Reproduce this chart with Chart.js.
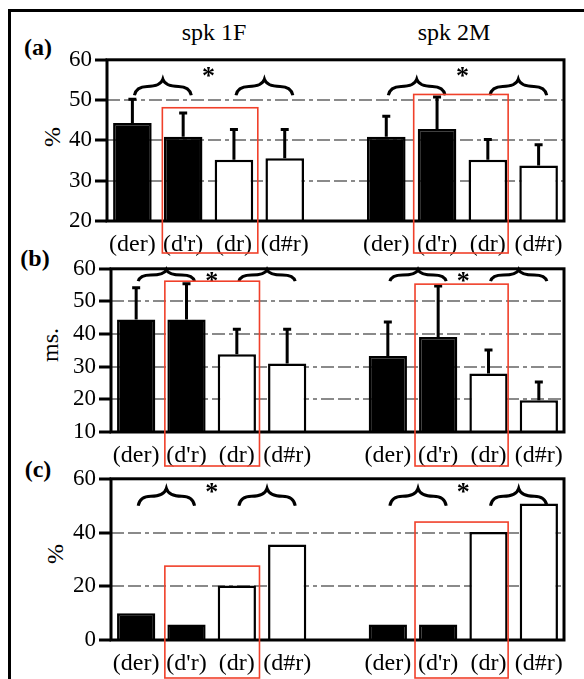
<!DOCTYPE html>
<html lang="en">
<head>
<meta charset="UTF-8">
<title>spk 1F / spk 2M</title>
<script src="https://cdn.jsdelivr.net/npm/chart.js"></script>
<style>
body { margin:0; width:584px; height:679px; position:relative; overflow:hidden; background:#fff; font-family:"Liberation Serif", serif; }
.frame { position:absolute; left:8px; top:9px; width:700px; height:700px; border-left:3px solid #000; border-top:3px solid #000; }
canvas { position:absolute; left:0; }
.txt { position:absolute; font-size:24px; color:#000; white-space:nowrap; transform:translate(-50%,-50%); }
.rot { transform:translate(-50%,-50%) rotate(-90deg); }
</style>
</head>
<body>
<div class="frame"></div>

<div class="txt" style="left:214px;top:32px">spk 1F</div>
<div class="txt" style="left:454px;top:32px">spk 2M</div>
<div class="txt" style="left:38px;top:47px;font-weight:bold">(a)</div>
<div class="txt" style="left:35px;top:258px;font-weight:bold">(b)</div>
<div class="txt" style="left:38px;top:469px;font-weight:bold">(c)</div>
<div class="txt rot" style="left:52px;top:137px">%</div>
<div class="txt rot" style="left:50px;top:345px">ms.</div>
<div class="txt rot" style="left:55px;top:554px">%</div>

<canvas id="cA" width="584" height="218" style="top:43px"></canvas>
<canvas id="cB" width="584" height="220" style="top:252px"></canvas>
<canvas id="cC" width="584" height="218" style="top:462px"></canvas>

<script>
// categories: two speakers, four conditions each, empty slot between them
const categories = ["(der)", "(d'r)", "(dr)", "(d#r)", "", "(der)", "(d'r)", "(dr)", "(d#r)"];
const barFills = ["#000", "#000", "#fff", "#fff", "#fff", "#000", "#000", "#fff", "#fff"];

// (a) %
const valuesA = [44.3, 40.9, 35.2, 35.6, null, 40.9, 42.8, 35.2, 33.8];
const errorsA = [50.2, 46.8, 42.7, 42.7, null, 46.0, 50.8, 40.2, 38.9];
const ticksA = [20, 30, 40, 50, 60];
const gridA = [30, 40, 50];

// (b) ms.
const valuesB = [44.5, 44.5, 33.8, 31.0, null, 33.3, 39.1, 27.9, 19.7];
const errorsB = [54.2, 55.4, 41.5, 41.5, null, 43.7, 54.7, 35.1, 25.3];
const ticksB = [10, 20, 30, 40, 50, 60];
const gridB = [20, 30, 40, 50];

// (c) %
const valuesC = [10.0, 5.8, 20.3, 35.5, null, 5.8, 5.8, 40.2, 50.8];
const ticksC = [0, 20, 40, 60];
const gridC = [20, 40];

const bracePairs = [[0, 1], [2, 3], [5, 6], [7, 8]];
const starSlots = [[1, 2], [6, 7]];

const SERIF = "'Liberation Serif', 'Times New Roman', serif";

function drawBrace(ctx, x0, x1, yEnd, yPeak) {
    const mid = (x0 + x1) / 2, hw = (x1 - x0) / 2;
    const ym = yPeak + (yEnd - yPeak) * 0.45;
    ctx.beginPath();
    ctx.moveTo(x0, yEnd);
    ctx.quadraticCurveTo(x0 + 0.06 * hw, ym, x0 + 0.45 * hw, ym);
    ctx.quadraticCurveTo(mid - 0.08 * hw, ym, mid, yPeak);
    ctx.quadraticCurveTo(mid + 0.08 * hw, ym, x1 - 0.45 * hw, ym);
    ctx.quadraticCurveTo(x1 - 0.06 * hw, ym, x1, yEnd);
    ctx.stroke();
}

const extras = {
    id: 'extras',
    afterDatasetsDraw(chart, args, o) {
        const ctx = chart.ctx, x = chart.scales.x, y = chart.scales.y;
        if (!o.errors) return;
        ctx.save();
        ctx.strokeStyle = '#000';
        ctx.lineWidth = 3;
        o.errors.forEach((e, i) => {
            const v = chart.data.datasets[0].data[i];
            if (e == null || v == null) return;
            const px = x.getPixelForValue(i);
            ctx.beginPath();
            ctx.moveTo(px, y.getPixelForValue(v));
            ctx.lineTo(px, y.getPixelForValue(e));
            ctx.moveTo(px - 4, y.getPixelForValue(e));
            ctx.lineTo(px + 4, y.getPixelForValue(e));
            ctx.stroke();
        });
        ctx.restore();
    },
    afterDraw(chart, args, o) {
        const ctx = chart.ctx, x = chart.scales.x, y = chart.scales.y, a = chart.chartArea;
        const slot = (a.right - a.left) / categories.length;
        ctx.save();
        // plot frame
        ctx.strokeStyle = '#000';
        ctx.lineWidth = 3;
        ctx.strokeRect(a.left, a.top, a.right - a.left, a.bottom - a.top);
        // braces
        ctx.lineWidth = 3;
        bracePairs.forEach(([i, j]) => {
            const m = (x.getPixelForValue(i) + x.getPixelForValue(j)) / 2 + 0.1 * slot;
            drawBrace(ctx, m - 0.56 * slot, m + 0.56 * slot, y.getPixelForValue(o.braceEnd), y.getPixelForValue(o.braceTop));
        });
        // asterisks
        ctx.fillStyle = '#000';
        ctx.font = 'bold 26px ' + SERIF;
        ctx.textAlign = 'center';
        ctx.textBaseline = 'middle';
        starSlots.forEach(([i, j]) => {
            const m = (x.getPixelForValue(i) + x.getPixelForValue(j)) / 2;
            ctx.fillText('*', m, y.getPixelForValue(o.starY) + 5);
        });
        // red boxes
        ctx.strokeStyle = '#f0402a';
        ctx.lineWidth = 1.6;
        o.boxes.forEach(b => {
            const l = x.getPixelForValue(b.from) + b.l * slot;
            const r = x.getPixelForValue(b.to) + b.r * slot;
            const t = y.getPixelForValue(b.top);
            ctx.strokeRect(l, t, r - l, a.bottom + o.boxDrop - t);
        });
        ctx.restore();
    }
};

function makePanel(id, p) {
    new Chart(document.getElementById(id), {
        type: 'bar',
        data: {
            labels: categories,
            datasets: [{
                data: p.values,
                backgroundColor: barFills,
                borderColor: '#000',
                borderWidth: 2.5,
                categoryPercentage: 1,
                barPercentage: 0.76
            }]
        },
        plugins: [extras],
        options: {
            responsive: false,
            animation: false,
            layout: { padding: { top: 10, right: 20, left: 0, bottom: 0 } },
            plugins: {
                legend: { display: false },
                tooltip: { enabled: false },
                extras: p
            },
            scales: {
                x: {
                    grid: { display: false },
                    border: { display: false },
                    ticks: { color: '#000', font: { family: SERIF, size: 24 }, autoSkip: false, maxRotation: 0, padding: 1 },
                    afterFit: s => { s.height = 40; }
                },
                y: {
                    min: p.min,
                    max: p.max,
                    afterBuildTicks: s => { s.ticks = p.ticks.map(v => ({ value: v })); },
                    border: { display: false, dash: [13, 4, 13, 4, 4, 4] },
                    grid: {
                        color: c => (c.tick && p.grid.includes(c.tick.value)) ? '#8a8a8a' : 'rgba(0,0,0,0)',
                        lineWidth: 2,
                        tickColor: '#000',
                        tickWidth: 3,
                        tickLength: 12,
                        tickBorderDash: []
                    },
                    ticks: { color: '#000', font: { family: SERIF, size: 23 }, padding: 3 },
                    afterFit: s => { s.width = p.axisW; }
                }
            }
        }
    });
}

makePanel('cA', {
    values: valuesA, errors: errorsA, min: 20, max: 60, ticks: ticksA, grid: gridA, axisW: 107,
    braceTop: 55.2, braceEnd: 51.2, starY: 56.9, boxDrop: 32,
    boxes: [{ from: 1, to: 2, top: 48.1, l: -0.41, r: 0.47 }, { from: 6, to: 7, top: 51.4, l: -0.46, r: 0.4 }]
});
makePanel('cB', {
    values: valuesB, errors: errorsB, min: 10, max: 60, ticks: ticksB, grid: gridB, axisW: 111,
    braceTop: 59.7, braceEnd: 56.2, starY: 57.4, boxDrop: 34,
    boxes: [{ from: 1, to: 2, top: 56.2, l: -0.43, r: 0.45 }, { from: 6, to: 7, top: 55.3, l: -0.46, r: 0.39 }]
});
makePanel('cC', {
    values: valuesC, errors: null, min: 0, max: 60, ticks: ticksC, grid: gridC, axisW: 111,
    braceTop: 56.4, braceEnd: 50.0, starY: 56.4, boxDrop: 38,
    boxes: [{ from: 1, to: 2, top: 27.5, l: -0.43, r: 0.45 }, { from: 6, to: 7, top: 43.9, l: -0.46, r: 0.39 }]
});
</script>
</body>
</html>
